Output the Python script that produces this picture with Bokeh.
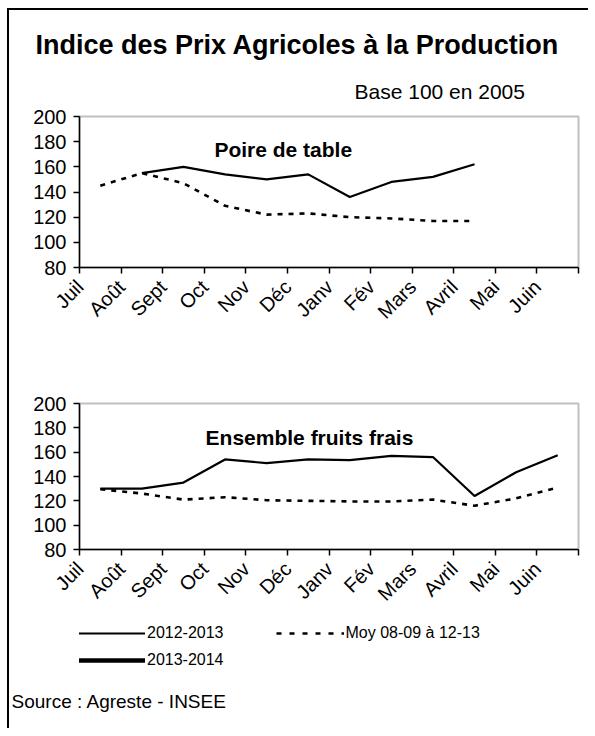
import math
from bokeh.plotting import figure
from bokeh.layouts import column
from bokeh.models import (Range1d, FixedTicker, Title, Legend, LegendItem,
                          ColumnDataSource, Label)
from bokeh.embed import file_html
from bokeh.resources import INLINE

nan = float("nan")

# ---- data ----
months = ["Juil", "Août", "Sept", "Oct", "Nov", "Déc",
          "Janv", "Fév", "Mars", "Avril", "Mai", "Juin"]
y_ticks = [80, 100, 120, 140, 160, 180, 200]

poire_2012_2013 = [nan, 155, 160, 154, 150, 154, 136, 148, 152, 162, nan, nan]
poire_moy = [145, 155, 147, 129, 122, 123, 120, 119, 117, 117, nan, nan]

fruits_2012_2013 = [130, 130, 135, 154, 151, 154, 153.5, 157, 156, 124, 143.5, 157.5]
fruits_moy = [129.5, 126, 121, 123, 120.5, 120, 119.5, 119.5, 121, 116, 122, 131]

title_text = "Indice des Prix Agricoles à la Production"
base_text = "Base 100 en 2005"
source_text = "Source : Agreste - INSEE"
legend_labels = ["2012-2013", "Moy 08-09 à 12-13", "2013-2014"]

FONT = "Liberation Sans"
W = 579
BL, BR = 70, 10  # left / right borders around every frame

# x positions: centre of each month category on a 0..12 scale
xs = [i + 0.5 for i in range(len(months))]
label_pos = [i + 0.01 for i in range(len(months))]


def chart(h, top, bottom, solid, dashed, subtitle, sub_x, sub_y):
    p = figure(width=W, height=h, output_backend="svg", toolbar_location=None,
               x_range=Range1d(0, 12), y_range=Range1d(80, 200),
               min_border_left=BL, min_border_right=BR,
               min_border_top=top, min_border_bottom=bottom)
    p.grid.visible = False
    p.background_fill_color = "white"
    p.border_fill_color = "white"
    p.outline_line_color = "#c0c0c0"
    p.outline_line_width = 2

    src = ColumnDataSource(dict(x=xs, solid=solid, dashed=dashed))
    p.line("x", "dashed", source=src, line_color="black", line_width=2.6,
           line_dash="5 6")
    p.line("x", "solid", source=src, line_color="black", line_width=2.2)

    xa = p.xaxis[0]
    xa.ticker = FixedTicker(ticks=label_pos, minor_ticks=list(range(len(months) + 1)))
    xa.major_label_overrides = {x: m for x, m in zip(label_pos, months)}
    xa.major_tick_line_color = None
    xa.major_tick_out = 6
    xa.major_tick_in = 0
    xa.minor_tick_line_color = "black"
    xa.minor_tick_line_width = 1.5
    xa.minor_tick_out = 6
    xa.minor_tick_in = 0
    xa.axis_line_color = "black"
    xa.axis_line_width = 1.5
    xa.major_label_orientation = math.pi / 4
    xa.major_label_text_font = FONT
    xa.major_label_text_font_size = "20px"
    xa.major_label_text_color = "black"
    xa.major_label_standoff = 10

    ya = p.yaxis[0]
    ya.ticker = FixedTicker(ticks=y_ticks)
    ya.minor_tick_line_color = None
    ya.major_tick_line_color = "black"
    ya.major_tick_line_width = 1.5
    ya.major_tick_out = 6
    ya.major_tick_in = 0
    ya.axis_line_color = "black"
    ya.axis_line_width = 1.5
    ya.major_label_text_font = FONT
    ya.major_label_text_font_size = "20px"
    ya.major_label_text_color = "black"
    ya.major_label_standoff = 7

    p.add_layout(Label(x=sub_x, y=sub_y, text=subtitle, text_font=FONT,
                       text_font_size="21px", text_font_style="bold",
                       text_align="center", text_baseline="middle",
                       text_color="black"))
    return p


p1 = chart(98 + 227, 106, 68, poire_2012_2013, poire_moy, "Poire de table", 4.9, 174)
p2 = chart(280, 68, 63, fruits_2012_2013, fruits_moy, "Ensemble fruits frais", 5.53, 172)

# header titles on the first chart (first added sits closest to the frame)
p1.add_layout(Title(text=base_text, align="left", offset=275, standoff=23,
                    vertical_align="top",
                    text_font=FONT, text_font_size="21px",
                    text_font_style="normal", text_color="black"), "above")
p1.add_layout(Title(text=title_text, align="left", offset=-44, standoff=14,
                    vertical_align="top",
                    text_font=FONT, text_font_size="27px",
                    text_font_style="bold", text_color="black"), "above")

# ---- legend / source ----
LH = 113
LB = 47
leg = figure(width=W, height=LH, output_backend="svg", toolbar_location=None,
             x_range=Range1d(0, 1), y_range=Range1d(0, 1),
             min_border_left=BL, min_border_right=BR,
             min_border_top=0, min_border_bottom=LB)
leg.axis.visible = False
leg.grid.visible = False
leg.outline_line_color = None
leg.background_fill_color = "white"
leg.border_fill_color = "white"

r1 = leg.line(x=[nan], y=[nan], line_color="black", line_width=2.2)
r2 = leg.line(x=[nan], y=[nan], line_color="black", line_width=2.4, line_dash="5 8")
r3 = leg.line(x=[nan], y=[nan], line_color="black", line_width=4.5, line_cap="round")

common = dict(orientation="horizontal", glyph_width=68, glyph_height=20,
              label_standoff=2, label_text_font=FONT, label_text_font_size="16px",
              label_text_color="black", padding=0, margin=0,
              border_line_color=None, background_fill_alpha=0,
              label_text_baseline="middle", label_height=20)
frame_h = LH - LB
legA = Legend(items=[LegendItem(label=legend_labels[0], renderers=[r1]),
                     LegendItem(label=legend_labels[1], renderers=[r2])],
              location=(-2, frame_h - 18 - 10), spacing=52, **common)
legB = Legend(items=[LegendItem(label=legend_labels[2], renderers=[r3])],
              location=(-2, frame_h - 45 - 10), spacing=0, **common)
leg.add_layout(legA)
leg.add_layout(legB)
leg.add_layout(Title(text=source_text, align="left", offset=-68, standoff=14,
                     text_font=FONT, text_font_size="19px",
                     text_font_style="normal", text_color="black"), "below")

layout = column(p1, p2, leg, spacing=0,
                styles={"border-left": "2px solid black",
                        "border-top": "2px solid black",
                        "margin-left": "7px", "margin-top": "8px",
                        "background-color": "white"})

open("out.html", "w").write(file_html(layout, INLINE))
